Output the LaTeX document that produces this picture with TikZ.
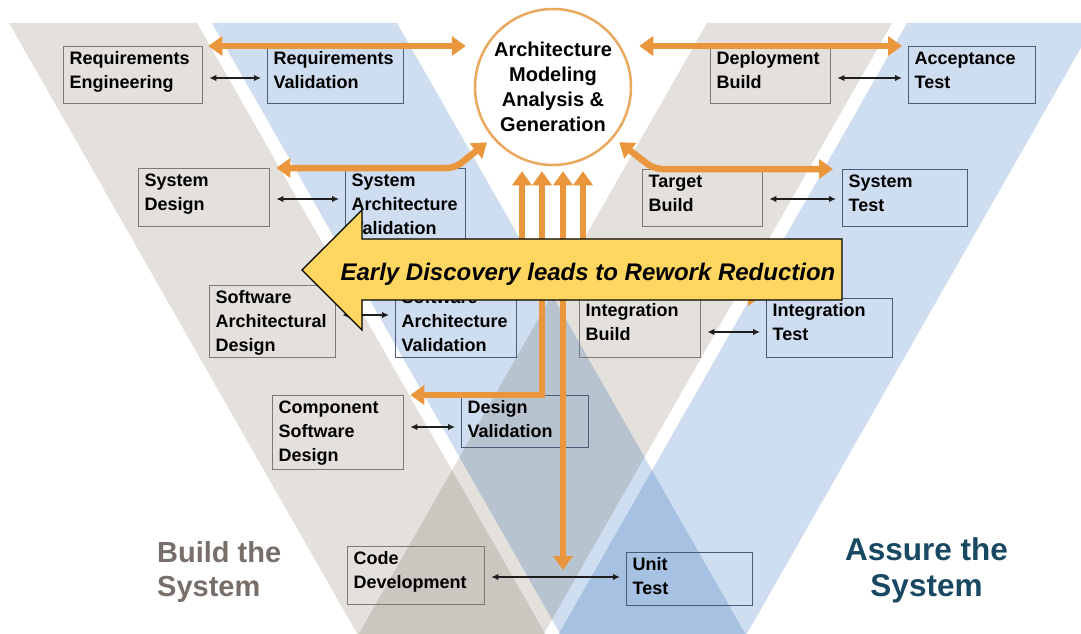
\documentclass[tikz,border=0pt]{standalone}
\usepackage{fontspec}
\setmainfont{Liberation Sans}
\usetikzlibrary{arrows.meta,calc}
\definecolor{bandgrey}{RGB}{228,225,221}
\definecolor{bandblue}{RGB}{206,222,240}
\definecolor{orng}{RGB}{234,150,60}
\definecolor{circo}{RGB}{234,168,95}
\definecolor{gbord}{RGB}{125,120,116}
\definecolor{bbord}{RGB}{72,92,122}
\definecolor{yel}{RGB}{255,214,96}
\definecolor{buildc}{RGB}{120,110,106}
\definecolor{assurec}{RGB}{24,72,98}
\definecolor{blk}{RGB}{30,30,30}
\newcommand\bxt[3]{\parbox[c][#2pt][t]{\dimexpr#1pt-12pt\relax}{\raggedright\hyphenpenalty=10000\rule{0pt}{18pt}#3}}
\begin{document}
\begin{tikzpicture}[x=1pt,y=-1pt,
  box/.style={draw, anchor=north west, inner xsep=6pt, inner ysep=0pt, line width=1.3pt, font=\fontsize{18}{24}\selectfont\bfseries, text=black},
  gbox/.style={box, draw=gbord},
  bbox/.style={box, draw=bbord},
  oarr/.style={draw=orng, line width=6.5pt, {Triangle[width=19pt,length=14pt]}-{Triangle[width=19pt,length=14pt]}},
  barr/.style={draw=blk, line width=1.6pt, {Latex[length=7pt,width=6.5pt]}-{Latex[length=7pt,width=6.5pt]}, shorten <=6pt, shorten >=6pt},
  band/.style={blend mode=multiply}
]
\useasboundingbox (0,0) rectangle (1081,634);
\fill[white] (0,0) rectangle (1081,634);
\clip (0,0) rectangle (1081,634);
% background bands
\fill[bandgrey, band] (9,23) -- (197,23) -- (554.4,650) -- (366.4,650) -- cycle;
\fill[bandblue, band] (212,23) -- (397,23) -- (754.4,650) -- (569.4,650) -- cycle;
\fill[bandgrey, band] (707,23) -- (892,23) -- (534.6,650) -- (349.6,650) -- cycle;
\fill[bandblue, band] (907,23) -- (1095,23) -- (737.6,650) -- (549.6,650) -- cycle;
% boxes
\node[gbox] (reqeng) at (63,46) {\bxt{139}{57}{Requirements\\Engineering}};
\node[bbox] (reqval) at (267,46) {\bxt{136}{57}{Requirements\\Validation}};
\node[gbox] (depbuild) at (710,46) {\bxt{120}{57}{Deployment\\Build}};
\node[bbox] (acctest) at (908,46) {\bxt{127}{57}{Acceptance\\Test}};
\node[gbox] (sysdes) at (138,168) {\bxt{131}{58}{System\\Design}};
\node[bbox] (sysarch) at (345,168) {\bxt{120}{74}{System\\Architecture\\Validation}};
\node[gbox] (tgtbuild) at (642,169) {\bxt{120}{57}{Target\\Build}};
\node[bbox] (systest) at (842,169) {\bxt{125}{57}{System\\Test}};
\node[gbox] (swdes) at (209,285) {\bxt{126}{72}{Software\\Architectural\\Design}};
\node[bbox] (swval) at (395,285) {\bxt{121}{72}{Software\\Architecture\\Validation}};
\node[gbox] (intbuild) at (579,298) {\bxt{121}{59}{Integration\\Build}};
\node[bbox] (inttest) at (766,298) {\bxt{126}{59}{Integration\\Test}};
\node[gbox] (compdes) at (272,395) {\bxt{131}{74}{Component\\Software\\Design}};
\node[bbox] (desval) at (461,395) {\bxt{127}{52}{Design\\Validation}};
\node[gbox] (codedev) at (347,546) {\bxt{137}{58}{Code\\Development}};
\node[bbox] (unittest) at (626,552) {\bxt{126}{53}{Unit\\Test}};
% black double arrows
\draw[barr] (reqeng.east |- 0,78) -- (reqval.west |- 0,78);
\draw[barr] (depbuild.east |- 0,78) -- (acctest.west |- 0,78);
\draw[barr] (sysdes.east |- 0,199) -- (sysarch.west |- 0,199);
\draw[barr] (tgtbuild.east |- 0,199) -- (systest.west |- 0,199);
\draw[barr] (swdes.east |- 0,315) -- (swval.west |- 0,315);
\draw[barr] (intbuild.east |- 0,332) -- (inttest.west |- 0,332);
\draw[barr] (compdes.east |- 0,427) -- (desval.west |- 0,427);
\draw[barr] (codedev.east |- 0,577) -- (unittest.west |- 0,577);
% central circle
\node[circle, draw=circo, line width=2.5pt, fill=white, minimum size=156pt, inner sep=0pt, align=center, font=\fontsize{20}{25}\selectfont\bfseries] (circ) at (553,87) {Architecture\\Modeling\\Analysis \&\\Generation};
% orange arrows
\draw[oarr, shorten <=5pt, shorten >=8pt] (reqeng.north east) -- (circ.west |- reqeng.north);
\draw[oarr, shorten <=7pt, shorten >=6pt] (circ.east |- acctest.north) -- (acctest.north west);
\draw[oarr, rounded corners=8pt, shorten <=6pt, shorten >=7pt] (sysdes.north east) -- (455,168) -- (circ.220);
\draw[oarr, rounded corners=8pt, shorten <=7pt, shorten >=9pt] (circ.320) -- (654,169) -- (systest.north west);
\draw[oarr, shorten <=12pt, shorten >=5pt] (swdes.east |- 0,296) -| (circ.south -| 522,0);
\draw[oarr, shorten <=6pt, shorten >=5pt] (compdes.north east) -| (circ.south -| 542,0);
\coordinate (codeunit) at (563,570);
\draw[oarr, shorten >=5pt] (codeunit) -- (circ.south -| 563,0);
\draw[oarr, shorten <=5pt, shorten >=4pt] (circ.south -| 583,0) |- (inttest.north west |- 0,296);
% yellow arrow
\filldraw[fill=yel, draw=black, line width=1.2pt] (302,270) -- (362,210) -- (362,239) -- (842,239) -- (842,300) -- (362,300) -- (362,330) -- cycle;
\node[anchor=base, inner sep=0pt, font=\fontsize{24}{28}\selectfont\bfseries\itshape] (early) at (588,280) {Early Discovery leads to Rework Reduction};
% side labels
\node[anchor=north west, inner sep=0pt, align=left, text=buildc, font=\fontsize{29}{34}\selectfont\bfseries] (build) at (157,541) {Build the\\System};
\node[anchor=north, inner sep=0pt, align=center, text=assurec, font=\fontsize{31.5}{36}\selectfont\bfseries] (assure) at (926.5,537) {Assure the\\System};
\end{tikzpicture}
\end{document}
